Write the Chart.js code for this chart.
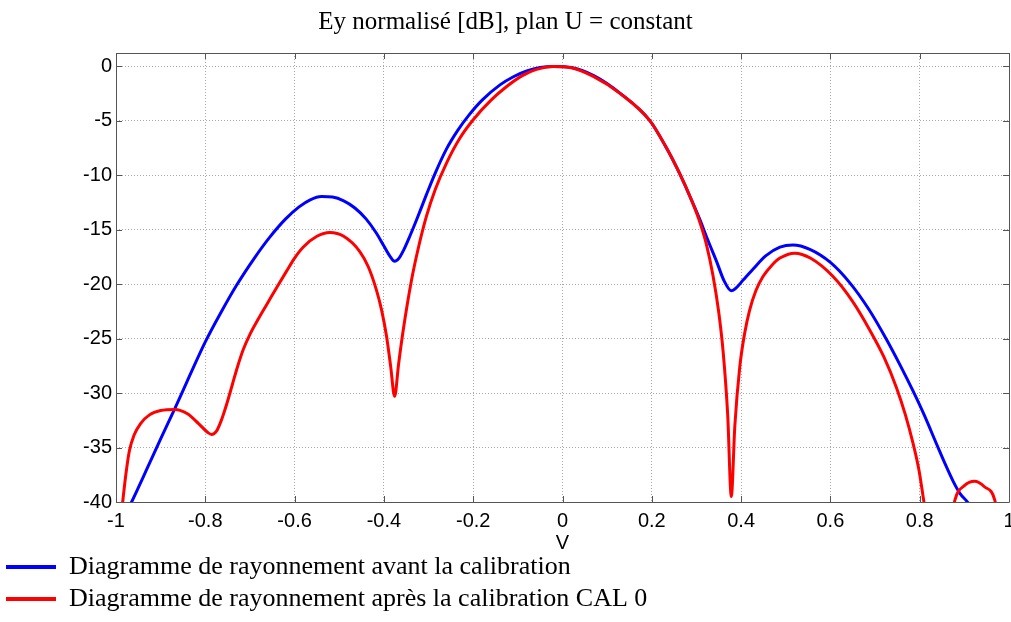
<!DOCTYPE html>
<html>
<head>
<meta charset="utf-8">
<script src="https://cdn.jsdelivr.net/npm/chart.js@4/dist/chart.umd.min.js"></script>
<style>
  html, body { margin: 0; padding: 0; background: #fff; }
  #wrap { width: 1011px; height: 622px; position: relative; }
</style>
</head>
<body>
<div id="wrap"><canvas id="radChart"></canvas></div>
<script>
//AXIS TICKS
const xTicks = [-1, -0.8, -0.6, -0.4, -0.2, 0, 0.2, 0.4, 0.6, 0.8, 1];
const yTicks = [-40, -35, -30, -25, -20, -15, -10, -5, 0];

//BLUE CURVE - BEFORE CALIBRATION
const blueV = [-0.977, -0.965, -0.93, -0.9, -0.868, -0.835, -0.8, -0.765, -0.73, -0.69,
  -0.656, -0.62, -0.59, -0.565, -0.54, -0.515, -0.49, -0.465, -0.44, -0.417,
  -0.4, -0.387, -0.376, -0.366, -0.355, -0.342, -0.325, -0.305, -0.285, -0.26,
  -0.235, -0.21, -0.18, -0.14, -0.11, -0.08, -0.05, -0.02, 0.02, 0.07,
  0.13, 0.196, 0.233, 0.263, 0.285, 0.307, 0.325, 0.345, 0.362, 0.378,
  0.39, 0.405, 0.427, 0.455, 0.487, 0.516, 0.554, 0.6, 0.644, 0.686,
  0.726, 0.757, 0.785, 0.81, 0.838, 0.858, 0.875, 0.89, 0.905, 0.92, 0.94];
const blueDb = [-41, -40, -36.9, -34.2, -31.4, -28.4, -25.3, -22.6, -20.1, -17.6,
  -15.7, -14.0, -12.9, -12.25, -11.95, -12.0, -12.35, -13.0, -14.0, -15.3,
  -16.5, -17.4, -17.9, -17.6, -16.8, -15.6, -13.9, -11.8, -9.8, -7.6,
  -5.9, -4.5, -3.1, -1.7, -0.95, -0.42, -0.1, 0, -0.1, -0.85,
  -2.5, -5.0, -7.5, -9.9, -11.9, -14.0, -15.9, -17.9, -19.7, -20.6,
  -20.3, -19.6, -18.6, -17.4, -16.6, -16.4, -16.8, -18.0, -19.9, -22.3,
  -25.1, -27.5, -29.8, -32.0, -34.7, -36.6, -38.1, -39.2, -39.9, -40.6, -41.3];

//RED CURVE - AFTER CALIBRATION CAL 0
const redV = [-0.99, -0.985, -0.978, -0.97, -0.96, -0.945, -0.925, -0.9, -0.868, -0.84,
  -0.815, -0.795, -0.786, -0.775, -0.765, -0.752, -0.74, -0.728, -0.715, -0.7,
  -0.68, -0.66, -0.64, -0.618, -0.6, -0.581, -0.55, -0.521, -0.49, -0.454,
  -0.435, -0.417, -0.405, -0.394, -0.385, -0.376, -0.367, -0.357, -0.338, -0.323,
  -0.305, -0.285, -0.26, -0.23, -0.2, -0.16, -0.125, -0.09, -0.06, -0.021,
  0.02, 0.069, 0.128, 0.196, 0.233, 0.263, 0.285, 0.305, 0.322, 0.337,
  0.35, 0.36, 0.37, 0.378, 0.386, 0.397, 0.408, 0.419, 0.433, 0.449,
  0.468, 0.487, 0.52, 0.555, 0.606, 0.65, 0.688, 0.72, 0.748, 0.768,
  0.785, 0.798, 0.808, 0.815, 0.84, 0.872, 0.879, 0.9, 0.923, 0.945,
  0.968, 0.975];
const redDb = [-42, -40, -37.5, -35.3, -33.9, -32.8, -32.0, -31.6, -31.5, -31.9,
  -32.8, -33.6, -33.8, -33.5, -32.6, -31.0, -29.3, -27.6, -26.0, -24.6,
  -23.1, -21.7, -20.3, -18.8, -17.6, -16.6, -15.6, -15.25, -15.6, -17.0,
  -18.4, -20.5, -22.4, -24.8, -27.5, -30.3, -27.3, -24.3, -19.6, -16.7,
  -13.8, -11.3, -8.9, -6.6, -4.9, -3.1, -1.85, -0.85, -0.3, 0,
  -0.12, -0.92, -2.45, -5.0, -7.5, -9.9, -11.9, -14.0, -16.3, -19.2,
  -22.6, -26.3, -32.0, -39.5, -33.0, -27.6, -24.5, -22.4, -20.6, -19.3,
  -18.3, -17.6, -17.15, -17.6, -19.3, -21.6, -24.2, -26.7, -29.5, -32.0,
  -34.6, -37.0, -39.6, -41.5, null, -41.5, -39.8, -38.5, -38.1, -38.6,
  -39.8, -41.5];

const labels = [
  "Diagramme de rayonnement avant la calibration",
  "Diagramme de rayonnement après la calibration CAL 0",
];

function toPoints(xs, ys) {
  return xs.map((v, i) => ({ x: v, y: ys[i] }));
}

//BOX AROUND THE PLOT WITH INWARD TICKS
const framePlugin = {
  id: "frame",
  afterDraw(chart) {
    const { ctx, chartArea: a, scales } = chart;
    const len = 6;
    ctx.save();
    ctx.strokeStyle = "#555";
    ctx.lineWidth = 1;
    ctx.beginPath();
    ctx.rect(Math.round(a.left) + 0.5, Math.round(a.top) + 0.5,
      Math.round(a.right) - Math.round(a.left), Math.round(a.bottom) - Math.round(a.top));
    xTicks.forEach((v) => {
      const px = Math.round(scales.x.getPixelForValue(v)) + 0.5;
      ctx.moveTo(px, a.top); ctx.lineTo(px, a.top + len);
      ctx.moveTo(px, a.bottom); ctx.lineTo(px, a.bottom - len);
    });
    yTicks.forEach((v) => {
      const py = Math.round(scales.y.getPixelForValue(v)) + 0.5;
      ctx.moveTo(a.left, py); ctx.lineTo(a.left + len, py);
      ctx.moveTo(a.right, py); ctx.lineTo(a.right - len, py);
    });
    ctx.stroke();
    ctx.restore();
  },
};

const tickFont = { family: "'Liberation Sans', Arial, sans-serif", size: 20 };
const serif = "'Liberation Serif', 'Times New Roman', serif";

const config = {
  type: "line",
  data: {
    datasets: [
      {
        label: labels[0],
        data: toPoints(blueV, blueDb),
        borderColor: "#0000ff",
        backgroundColor: "#0000ff",
        borderWidth: 3,
        pointRadius: 0,
        cubicInterpolationMode: "monotone",
        clip: 0,
        order: 1,
      },
      {
        label: labels[1],
        data: toPoints(redV, redDb),
        borderColor: "#ff0000",
        backgroundColor: "#ff0000",
        borderWidth: 3,
        pointRadius: 0,
        cubicInterpolationMode: "monotone",
        spanGaps: false,
        clip: 0,
        order: 0,
      },
    ],
  },
  options: {
    responsive: false,
    animation: false,
    layout: { padding: 0 },
    plugins: {
      title: {
        display: true,
        text: "Ey normalisé [dB], plan U = constant",
        color: "#000",
        font: { family: serif, size: 25, weight: "normal" },
        padding: { top: 7, bottom: 16 },
      },
      legend: {
        position: "bottom",
        align: "start",
        labels: {
          color: "#000",
          font: { family: serif, size: 26 },
          boxWidth: 50,
          boxHeight: 4,
          padding: 6,
          sort: (a, b) => a.datasetIndex - b.datasetIndex,
          generateLabels(chart) {
            return Chart.defaults.plugins.legend.labels.generateLabels(chart)
              .map((l) => ({ ...l, lineWidth: 0 }));
          },
        },
      },
      tooltip: { enabled: false },
    },
    scales: {
      x: {
        type: "linear",
        min: -1,
        max: 1,
        afterBuildTicks(scale) {
          scale.ticks = xTicks.map((v) => ({ value: v }));
        },
        afterFit(scale) {
          scale.height = 46;
          scale.paddingRight = 2;
        },
        ticks: {
          color: "#000",
          font: tickFont,
          padding: 7,
          maxRotation: 0,
          callback: (v) => String(v),
        },
        grid: { color: "#a8a8a8", lineWidth: 1, drawTicks: false },
        border: { display: false, dash: [1, 2] },
        title: {
          display: true,
          text: "V",
          color: "#000",
          font: { family: "'Liberation Sans', Arial, sans-serif", size: 20 },
          padding: { top: 0, bottom: -7 },
        },
      },
      y: {
        min: -40,
        max: 1.23,
        afterBuildTicks(scale) {
          scale.ticks = yTicks.map((v) => ({ value: v }));
        },
        afterFit(scale) {
          scale.width = 116;
        },
        ticks: {
          color: "#000",
          font: tickFont,
          padding: 4,
          callback: (v) => String(v),
        },
        grid: { color: "#a8a8a8", lineWidth: 1, drawTicks: false },
        border: { display: false, dash: [1, 2] },
      },
    },
  },
  plugins: [framePlugin],
};

const canvas = document.getElementById("radChart");
canvas.width = 1011;
canvas.height = 622;
const chart = new Chart(canvas, config);
</script>
</body>
</html>
